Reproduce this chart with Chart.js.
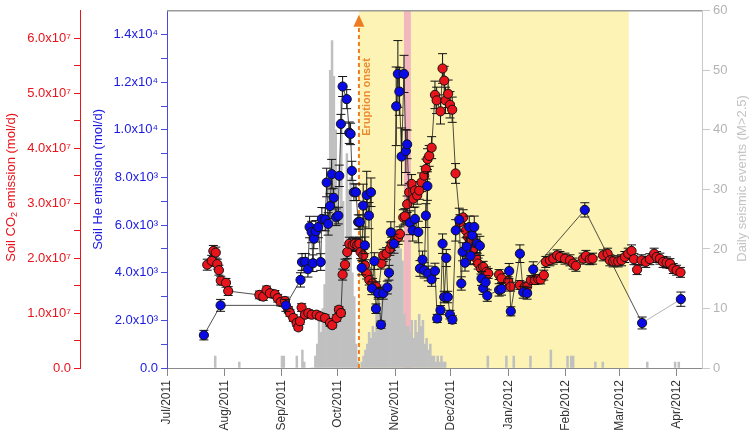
<!DOCTYPE html>
<html>
<head>
<meta charset="utf-8">
<script src="https://cdn.jsdelivr.net/npm/chart.js@4.4.0/dist/chart.umd.min.js"></script>
<style>
  body { margin: 0; background: #fff; }
  #wrap { width: 749px; height: 431px; }
</style>
</head>
<body>
<div id="wrap"><canvas id="chart" width="749" height="431"></canvas></div>
<script>
// x values are days counted from 1 Jul 2011
let monthDays = [0, 31, 62, 92, 123, 153, 184, 215, 244, 275];
let monthLabels = ['Jul/2011', 'Aug/2011', 'Sep/2011', 'Oct/2011', 'Nov/2011', 'Dec/2011', 'Jan/2012', 'Feb/2012', 'Mar/2012', 'Apr/2012'];

let eruptionOnset = 103.5;
let eruptionEnd = 249;
let pinkStart = 127.8;
let pinkEnd = 131.5;

// soil CO2 emission (mol/d)
let co2Days = [21.7, 24.1, 25.0, 26.3, 27.1, 28.0, 29.0, 31.8, 33.0,
  49.8, 51.9, 53.7, 55.5, 58.2, 59.7, 61.3, 63.6, 65.4, 66.3,
  68.1, 69.9, 70.8, 71.7, 72.6, 74.4, 76.2, 78.0, 80.7, 82.5,
  85.2, 87.9, 89.1, 91.5, 92.7, 93.8, 94.7, 96.0, 97.2, 98.3,
  100.1, 101.3, 102.6, 103.7, 104.4, 105.8, 106.7, 107.7, 109.1, 110.8,
  112.7, 113.9, 115.7, 116.6, 118.4, 120.2, 121.1, 122.9, 124.7, 125.6,
  127.4, 128.3, 129.5, 130.6, 131.9, 132.8, 133.7, 134.9, 136.0, 137.3,
  138.7, 139.6, 140.5, 141.4, 142.7, 144.5, 145.4, 147.5, 148.6, 149.5,
  150.2, 151.6, 152.6, 153.8, 155.6, 158.0, 159.7, 161.2, 162.4, 163.3,
  165.1, 166.6, 167.8, 169.3, 170.5, 172.3, 173.2, 179.1, 180.4, 184.0,
  185.3, 190.3, 193.0, 194.2, 196.2, 198.4, 200.2, 201.5, 203.2, 204.3,
  206.5, 208.3, 210.4, 211.9, 214.6, 217.3, 219.0, 220.5, 224.4, 225.9,
  228.0, 229.5, 235.2, 237.6, 238.8, 240.6, 243.3, 245.1, 246.9, 248.7,
  250.5, 251.8, 253.5, 255.9, 258.2, 260.4, 262.7, 264.0, 265.8, 267.5,
  269.4, 271.2, 273.0, 274.8, 276.9];
let co2Values = [1.88e7, 1.95e7, 2.13e7, 2.10e7, 1.89e7, 1.78e7, 1.59e7, 1.55e7, 1.40e7,
  1.33e7, 1.30e7, 1.42e7, 1.36e7, 1.34e7, 1.27e7, 1.20e7, 1.22e7, 1.06e7, 1.00e7,
  0.91e7, 0.82e7, 0.74e7, 0.85e7, 1.10e7, 0.97e7, 1.00e7, 0.97e7, 0.97e7, 0.94e7,
  0.91e7, 0.82e7, 0.78e7, 0.91e7, 1.06e7, 1.00e7, 1.70e7, 1.88e7, 2.11e7, 2.26e7,
  2.24e7, 2.26e7, 2.24e7, 2.26e7, 2.11e7, 2.05e7, 1.87e7, 1.72e7, 1.60e7, 1.54e7,
  1.48e7, 1.36e7, 1.90e7, 2.05e7, 2.08e7, 2.17e7, 2.26e7, 2.32e7, 2.38e7, 2.44e7,
  2.74e7, 2.76e7, 2.98e7, 3.20e7, 3.35e7, 3.08e7, 3.23e7, 3.14e7, 3.23e7, 3.38e7,
  3.50e7, 3.62e7, 3.80e7, 3.86e7, 4.01e7, 4.97e7, 4.87e7, 4.67e7, 5.45e7, 5.23e7,
  4.87e7, 4.99e7, 4.79e7, 4.70e7, 3.54e7, 2.65e7, 2.74e7, 2.50e7, 2.38e7, 2.29e7,
  2.17e7, 2.00e7, 1.90e7, 1.81e7, 1.84e7, 1.75e7, 1.72e7, 1.70e7, 1.63e7, 1.58e7,
  1.48e7, 1.51e7, 1.48e7, 1.48e7, 1.60e7, 1.60e7, 1.62e7, 1.61e7, 1.69e7, 1.93e7,
  1.96e7, 1.99e7, 2.05e7, 2.02e7, 1.99e7, 1.96e7, 1.90e7, 1.86e7, 1.99e7, 2.04e7,
  1.98e7, 1.99e7, 2.05e7, 2.08e7, 1.96e7, 1.94e7, 1.94e7, 1.96e7, 2.02e7, 2.08e7,
  2.13e7, 1.98e7, 1.79e7, 1.96e7, 1.93e7, 1.98e7, 2.08e7, 2.02e7, 1.99e7, 1.93e7,
  1.92e7, 1.90e7, 1.81e7, 1.78e7, 1.74e7];
let co2Errors = [0.10e7, 0.10e7, 0.10e7, 0.10e7, 0.09e7, 0.09e7, 0.08e7, 0.08e7, 0.08e7,
  0.07e7, 0.07e7, 0.07e7, 0.07e7, 0.07e7, 0.07e7, 0.07e7, 0.07e7, 0.06e7, 0.06e7,
  0.06e7, 0.06e7, 0.05e7, 0.06e7, 0.07e7, 0.06e7, 0.06e7, 0.06e7, 0.06e7, 0.06e7,
  0.06e7, 0.06e7, 0.05e7, 0.06e7, 0.06e7, 0.06e7, 0.10e7, 0.10e7, 0.12e7, 0.12e7,
  0.12e7, 0.12e7, 0.12e7, 0.12e7, 0.12e7, 0.11e7, 0.10e7, 0.10e7, 0.09e7, 0.09e7,
  0.09e7, 0.08e7, 0.10e7, 0.11e7, 0.11e7, 0.12e7, 0.12e7, 0.12e7, 0.13e7, 0.13e7,
  0.14e7, 0.14e7, 0.15e7, 0.16e7, 0.17e7, 0.16e7, 0.16e7, 0.16e7, 0.16e7, 0.17e7,
  0.17e7, 0.18e7, 0.19e7, 0.19e7, 0.20e7, 0.25e7, 0.24e7, 0.23e7, 0.27e7, 0.26e7,
  0.24e7, 0.25e7, 0.24e7, 0.23e7, 0.18e7, 0.14e7, 0.14e7, 0.13e7, 0.12e7, 0.12e7,
  0.11e7, 0.10e7, 0.10e7, 0.10e7, 0.10e7, 0.09e7, 0.09e7, 0.09e7, 0.09e7, 0.08e7,
  0.08e7, 0.08e7, 0.08e7, 0.08e7, 0.08e7, 0.08e7, 0.08e7, 0.08e7, 0.09e7, 0.10e7,
  0.10e7, 0.10e7, 0.10e7, 0.10e7, 0.10e7, 0.10e7, 0.10e7, 0.10e7, 0.10e7, 0.10e7,
  0.10e7, 0.10e7, 0.10e7, 0.10e7, 0.10e7, 0.10e7, 0.10e7, 0.10e7, 0.10e7, 0.10e7,
  0.11e7, 0.10e7, 0.09e7, 0.10e7, 0.10e7, 0.10e7, 0.10e7, 0.10e7, 0.10e7, 0.10e7,
  0.10e7, 0.09e7, 0.09e7, 0.09e7, 0.09e7];

// soil He emission (mol/d)
let heDays = [19.9, 28.9, 64.1, 72.0, 72.8, 74.6, 76.0, 76.9, 78.0, 78.7,
  79.2, 80.3, 81.6, 82.9, 83.5, 85.3, 86.1, 86.9, 87.9, 88.8,
  89.9, 91.2, 92.4, 92.9, 93.8, 94.7, 96.9, 98.3, 99.0, 99.7,
  100.8, 101.9, 103.1, 104.0, 105.0, 105.8, 106.7, 107.7, 108.9, 110.0,
  110.5, 111.8, 112.7, 113.9, 115.4, 116.6, 118.8, 119.7, 120.7, 122.4,
  123.6, 124.5, 125.3, 126.5, 127.8, 128.8, 129.5, 131.0, 132.5, 133.7,
  135.5, 136.4, 137.8, 138.7, 139.6, 140.4, 140.9, 142.7, 144.5, 145.7,
  147.5, 148.6, 149.5, 150.6, 151.4, 152.6, 153.9, 155.7, 157.6, 158.7,
  159.4, 160.7, 161.6, 163.0, 163.7, 164.6, 165.7, 167.3, 168.7, 169.6,
  170.5, 171.8, 172.7, 179.1, 180.4, 184.5, 185.4, 190.3, 192.1, 194.2,
  197.5, 225.3, 256.2, 277.1];
let heValues = [1380, 2630, 2630, 3700, 4450, 4460, 4150, 5920, 5710, 4400,
  5430, 5740, 5920, 4450, 6260, 6240, 7790, 6050, 6800, 8140,
  7150, 6330, 6400, 8070, 10250, 11820, 11290, 9880, 9830, 8280,
  7380, 7380, 6130, 6130, 4210, 6820, 5150, 7260, 6400, 7380,
  3350, 4490, 2490, 3140, 1820, 3140, 3380, 4000, 5700, 5220,
  10990, 12350, 11610, 8880, 12350, 9110, 9390, 6100, 5780, 6260,
  5710, 4180, 4550, 4100, 6400, 7640, 3970, 3720, 4080, 2080,
  2430, 5220, 2980, 4620, 2980, 2240, 2030, 5780, 6230, 3550,
  4880, 4420, 5100, 5920, 4710, 5570, 5920, 5220, 5130, 3760,
  3350, 3600, 3040, 3280, 3320, 4070, 2380, 4800, 3180, 3140,
  4140, 6640, 1890, 2890];
let heErrors = [200, 250, 250, 300, 350, 350, 330, 450, 450, 350,
  420, 450, 450, 350, 480, 480, 600, 470, 520, 620,
  400, 350, 350, 450, 400, 420, 400, 450, 450, 400,
  350, 350, 300, 300, 300, 900, 350, 1000, 550, 600,
  270, 350, 200, 250, 150, 250, 270, 310, 440, 400,
  1650, 1400, 1000, 1200, 780, 900, 600, 500, 450, 500,
  450, 330, 360, 320, 500, 600, 310, 290, 320, 170,
  190, 410, 240, 360, 240, 180, 160, 450, 480, 280,
  380, 350, 400, 460, 370, 430, 460, 400, 400, 290,
  260, 280, 240, 260, 260, 320, 190, 370, 250, 250,
  320, 300, 250, 300];

// daily seismic events (M>2.5): a continuous run of days plus scattered days
let seismicRunStart = 78;
let seismicRun = [0, 0, 2, 4, 8, 6, 10, 14, 24, 31,
  50, 55, 49, 40, 30, 26, 45, 28, 20, 36,
  30, 32, 16, 12, 4, 1, 0, 1, 2, 3,
  4, 6, 5, 7, 6, 9, 11, 10, 14, 12,
  15, 18, 16, 19, 21, 20, 23, 22, 20, 18,
  9, 7, 7, 6, 8, 5, 8, 6, 9, 7,
  8, 4, 5, 3, 4, 2, 2, 1, 2, 1,
  2, 1, 1];
let seismicOtherDays = [26, 39, 62, 63, 70, 73, 74, 173, 183, 187, 196, 207, 216, 218, 219, 231, 235, 259, 274, 276];
let seismicOtherCounts = [2, 1, 2, 2, 2, 3, 1, 2, 2, 2, 2, 3, 2, 2, 2, 1, 1, 1, 1, 1];

let family = "'Liberation Sans', Arial, sans-serif";
let red = '#e8141c';
let blue = '#1a1ae0';
let grey = '#b4b4b4';

let co2Points = co2Days.map((d, i) => ({ x: d, y: co2Values[i] }));
let hePoints = heDays.map((d, i) => ({ x: d, y: heValues[i] }));
let seismicPoints = seismicRun.map((c, i) => ({ x: seismicRunStart + i, y: c }));
seismicOtherDays.forEach((d, i) => seismicPoints.push({ x: d, y: seismicOtherCounts[i] }));
seismicPoints.sort((a, b) => a.x - b.x);

let co2Ticks = [];
for (let v = 0; v <= 6e7; v += 5e6) co2Ticks.push({ value: v });
let heTicks = [];
for (let v = 0; v <= 14000; v += 1000) heTicks.push({ value: v });

function co2Label(v) {
    if (v === 0) return '0.0';
    if (v % 1e7 !== 0) return '';
    return (v / 1e7).toFixed(1) + 'x10\u2077';
}
function heLabel(v) {
    if (v === 0) return '0.0';
    if (v % 2000 !== 0) return '';
    if (v >= 10000) return (v / 1e4).toFixed(1) + 'x10\u2074';
    return (v / 1e3).toFixed(1) + 'x10\u00b3';
}

// shaded periods behind the bars, eruption marker after the bars
const backgroundPlugin = {
    id: 'background',
    beforeDatasetsDraw(chart) {
        const { ctx, chartArea } = chart;
        const x = chart.scales.x;
        ctx.save();
        ctx.fillStyle = '#fcf3b4';
        let x0 = x.getPixelForValue(eruptionOnset);
        let x1 = x.getPixelForValue(eruptionEnd);
        ctx.fillRect(x0, chartArea.top, x1 - x0, chartArea.bottom - chartArea.top);
        ctx.fillStyle = '#f2b6bf';
        let p0 = x.getPixelForValue(pinkStart);
        let p1 = x.getPixelForValue(pinkEnd);
        ctx.fillRect(p0, chartArea.top, p1 - p0, chartArea.bottom - chartArea.top);
        ctx.restore();
    },
    afterDatasetDraw(chart, args) {
        if (args.index !== 0) return;
        const { ctx, chartArea } = chart;
        let lx = chart.scales.x.getPixelForValue(eruptionOnset);
        ctx.save();
        ctx.strokeStyle = '#ee7b22';
        ctx.lineWidth = 2;
        ctx.setLineDash([4, 3]);
        ctx.beginPath();
        ctx.moveTo(lx, chartArea.bottom);
        ctx.lineTo(lx, chartArea.top + 14);
        ctx.stroke();
        ctx.setLineDash([]);
        ctx.fillStyle = '#ee7b22';
        ctx.beginPath();
        ctx.moveTo(lx, chartArea.top + 4);
        ctx.lineTo(lx - 5.5, chartArea.top + 16);
        ctx.lineTo(lx + 5.5, chartArea.top + 16);
        ctx.closePath();
        ctx.fill();
        ctx.translate(lx + 8, chartArea.top + 125);
        ctx.rotate(-Math.PI / 2);
        ctx.fillStyle = '#ec8a34';
        ctx.font = 'bold 11px ' + family;
        ctx.textAlign = 'left';
        ctx.textBaseline = 'middle';
        ctx.fillText('Eruption onset', 0, 0);
        ctx.restore();
    }
};

const errorBarPlugin = {
    id: 'errorBars',
    beforeDatasetDraw(chart, args) {
        const ds = chart.data.datasets[args.index];
        if (!ds.errors) return;
        const ctx = chart.ctx;
        const xs = chart.scales.x;
        const ys = chart.scales[ds.yAxisID];
        ctx.save();
        ctx.strokeStyle = '#111';
        ctx.lineWidth = 1;
        ds.data.forEach((p, i) => {
            let px = xs.getPixelForValue(p.x);
            let top = ys.getPixelForValue(p.y + ds.errors[i]);
            let bot = ys.getPixelForValue(p.y - ds.errors[i]);
            ctx.beginPath();
            ctx.moveTo(px, top);
            ctx.lineTo(px, bot);
            ctx.moveTo(px - 4.5, top);
            ctx.lineTo(px + 4.5, top);
            ctx.moveTo(px - 4.5, bot);
            ctx.lineTo(px + 4.5, bot);
            ctx.stroke();
        });
        ctx.restore();
    }
};

function drawTitle(ctx, x, y, rot, color, parts) {
    ctx.save();
    ctx.translate(x, y);
    ctx.rotate(rot);
    ctx.fillStyle = color;
    ctx.textBaseline = 'middle';
    ctx.textAlign = 'left';
    let total = 0;
    parts.forEach(p => {
        ctx.font = p.size + 'px ' + family;
        total += ctx.measureText(p.text).width;
    });
    let cx = -total / 2;
    parts.forEach(p => {
        ctx.font = p.size + 'px ' + family;
        ctx.fillText(p.text, cx, p.dy || 0);
        cx += ctx.measureText(p.text).width;
    });
    ctx.restore();
}

const framePlugin = {
    id: 'frame',
    afterDraw(chart) {
        const { ctx, chartArea, scales } = chart;
        ctx.save();
        ctx.strokeStyle = '#9a9a9a';
        ctx.lineWidth = 1.5;
        ctx.beginPath();
        ctx.moveTo(chartArea.left, chartArea.top);
        ctx.lineTo(chartArea.right, chartArea.top);
        ctx.stroke();
        ctx.restore();
        let mid = (chartArea.top + chartArea.bottom) / 2;
        drawTitle(ctx, scales.co2.left + 11, mid - 2, -Math.PI / 2, red, [
            { text: 'Soil CO', size: 13 },
            { text: '2', size: 9, dy: 4 },
            { text: ' emission (mol/d)', size: 13 }
        ]);
        drawTitle(ctx, scales.he.left + 18, mid - 10, -Math.PI / 2, blue, [
            { text: 'Soil He emission (mol/d)', size: 13 }
        ]);
        drawTitle(ctx, scales.seis.right - 7, mid - 11, -Math.PI / 2, '#c4c4c4', [
            { text: 'Daily seismic events (M>2.5)', size: 13 }
        ]);
    }
};

new Chart(document.getElementById('chart'), {
    data: {
        datasets: [
            {
                type: 'bar',
                data: seismicPoints,
                yAxisID: 'seis',
                backgroundColor: '#c0c0c0',
                barPercentage: 1,
                categoryPercentage: 1,
                order: 3
            },
            {
                type: 'line',
                data: co2Points,
                errors: co2Errors,
                yAxisID: 'co2',
                borderColor: '#222',
                borderWidth: 0.8,
                pointRadius: 4.6,
                pointBorderWidth: 1,
                pointBorderColor: '#111',
                pointBackgroundColor: red,
                order: 2
            },
            {
                type: 'line',
                data: hePoints,
                errors: heErrors,
                yAxisID: 'he',
                borderColor: '#222',
                borderWidth: 0.8,
                segment: {
                    borderColor: ctx => ctx.p0DataIndex === heDays.length - 2 ? '#a0a0a0' : '#222'
                },
                pointRadius: 4.6,
                pointBorderWidth: 1,
                pointBorderColor: '#111',
                pointBackgroundColor: '#0a0ae6',
                order: 1
            }
        ]
    },
    options: {
        responsive: false,
        animation: false,
        devicePixelRatio: 1,
        layout: { padding: { top: 7, left: 0, right: 0, bottom: 0 } },
        plugins: { legend: { display: false }, tooltip: { enabled: false } },
        scales: {
            x: {
                type: 'linear',
                offset: false,
                min: 0,
                max: 288.5,
                afterBuildTicks: s => { s.ticks = monthDays.map(v => ({ value: v })); },
                afterFit: s => { s.height = 63; },
                ticks: {
                    callback: (v, i) => monthLabels[i],
                    minRotation: 90,
                    maxRotation: 90,
                    autoSkip: false,
                    color: '#333',
                    padding: 4,
                    font: { size: 12, family: family }
                },
                grid: { drawOnChartArea: false, offset: false, tickLength: 8, color: '#888' },
                border: { color: '#8a8a8a' }
            },
            co2: {
                type: 'linear',
                position: 'left',
                weight: 2,
                min: 0,
                max: 6.5e7,
                afterBuildTicks: s => { s.ticks = co2Ticks.slice(); },
                afterFit: s => { s.width = 80; },
                ticks: {
                    callback: v => co2Label(v),
                    color: red,
                    padding: 3,
                    font: { size: 13, family: family }
                },
                grid: { drawOnChartArea: false, tickLength: 6, color: red },
                border: { color: red }
            },
            he: {
                type: 'linear',
                position: 'left',
                weight: 1,
                min: 0,
                max: 15000,
                afterBuildTicks: s => { s.ticks = heTicks.slice(); },
                afterFit: s => { s.width = 87; },
                ticks: {
                    callback: v => heLabel(v),
                    color: blue,
                    padding: 3,
                    font: { size: 13, family: family }
                },
                grid: { drawOnChartArea: false, tickLength: 6, color: '#4a4ad8' },
                border: { color: '#4a4ad8' }
            },
            seis: {
                type: 'linear',
                position: 'right',
                min: 0,
                max: 60,
                afterFit: s => { s.width = 47; },
                ticks: {
                    stepSize: 10,
                    color: grey,
                    padding: 3,
                    font: { size: 13, family: family }
                },
                grid: { drawOnChartArea: false, tickLength: 8, color: '#c8c8c8' },
                border: { color: '#c8c8c8' }
            }
        }
    },
    plugins: [backgroundPlugin, errorBarPlugin, framePlugin]
});
</script>
</body>
</html>
